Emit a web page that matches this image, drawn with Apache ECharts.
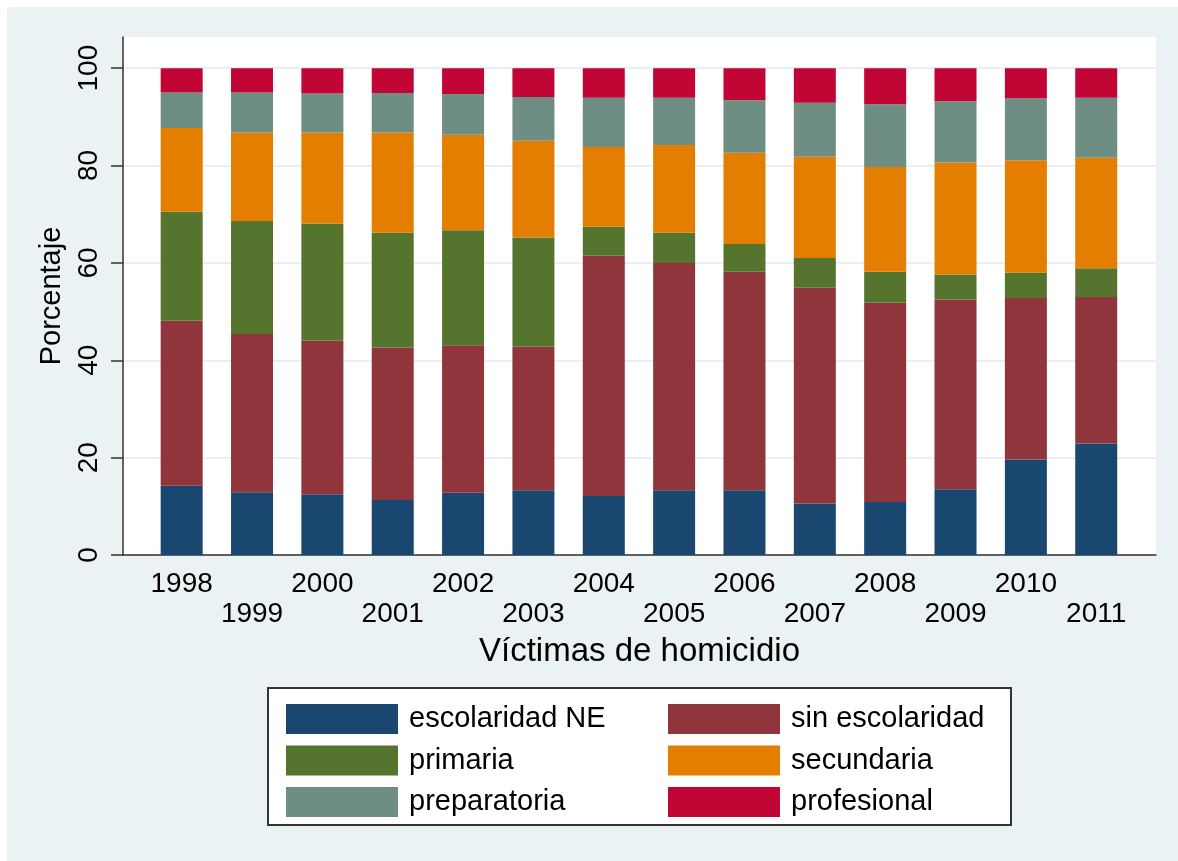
<!DOCTYPE html>
<html>
<head>
<meta charset="utf-8">
<script src="https://cdn.jsdelivr.net/npm/echarts@6/dist/echarts.min.js"></script>
<style>
  html, body { margin: 0; padding: 0; background: #ffffff; width: 1178px; height: 861px; overflow: hidden; }
  #chart { position: absolute; left: 7px; top: 7px; width: 1171px; height: 854px; }
</style>
</head>
<body>
<div id="chart"></div>
<script>
const years = ['1998','1999','2000','2001','2002','2003','2004','2005','2006','2007','2008','2009','2010','2011'];
const escolaridadNE  = [14.2, 12.9, 12.5, 11.3, 12.8, 13.3, 12.1, 13.3, 13.3, 10.6, 10.9, 13.5, 19.6, 22.9];
const sinEscolaridad = [33.9, 32.5, 31.5, 31.3, 30.3, 29.5, 49.4, 46.7, 44.9, 44.3, 40.9, 39.0, 33.2, 30.1];
const primaria       = [22.4, 23.2, 24.1, 23.6, 23.6, 22.4, 5.9, 6.2, 5.7, 6.1, 6.4, 5.1, 5.2, 5.9];
const secundaria     = [17.2, 18.2, 18.7, 20.6, 19.6, 19.9, 16.4, 18.0, 18.7, 20.8, 21.5, 23.0, 23.1, 22.7];
const preparatoria   = [7.3, 8.2, 8.0, 8.1, 8.4, 9.0, 10.1, 9.7, 10.8, 11.1, 12.9, 12.6, 12.7, 12.3];
const profesional    = [5.0, 5.0, 5.2, 5.1, 5.3, 5.9, 6.1, 6.1, 6.6, 7.1, 7.4, 6.8, 6.2, 6.1];
const yTicks = [0, 20, 40, 60, 80, 100];

const seriesDefs = [
  { name: 'escolaridad NE', data: escolaridadNE, color: '#1a476f' },
  { name: 'sin escolaridad', data: sinEscolaridad, color: '#90353b' },
  { name: 'primaria', data: primaria, color: '#55752f' },
  { name: 'secundaria', data: secundaria, color: '#e37e00' },
  { name: 'preparatoria', data: preparatoria, color: '#6e8e84' },
  { name: 'profesional', data: profesional, color: '#c10534' }
];

const FONT = '"Liberation Sans", Arial, sans-serif';
const chart = echarts.init(document.getElementById('chart'), null, { renderer: 'canvas' });

const legendCommon = {
  orient: 'vertical',
  icon: 'rect',
  itemWidth: 112,
  itemHeight: 30,
  itemGap: 11.5,
  selectedMode: false,
  textStyle: { fontFamily: FONT, fontSize: 29, color: '#000', lineHeight: 30, padding: [0, 0, 0, 6] }
};

const option = {
  backgroundColor: '#eaf2f3',
  animation: false,
  grid: [
    { left: 116, top: 30, right: 22, bottom: 306, show: true, backgroundColor: '#ffffff', borderWidth: 0 },
    { left: 139.5, top: 30, right: 46.6, bottom: 306 }
  ],
  graphic: [
    { type: 'rect', left: 260, top: 680, shape: { width: 743, height: 137 },
      style: { fill: '#ffffff', stroke: '#333333', lineWidth: 2 }, z: -1 }
  ],
  legend: [
    Object.assign({ left: 274, top: 692, data: ['escolaridad NE', 'primaria', 'preparatoria'] }, legendCommon),
    Object.assign({ left: 656, top: 692, data: ['sin escolaridad', 'secundaria', 'profesional'] }, legendCommon)
  ],
  xAxis: [
    {
      type: 'value', gridIndex: 0, min: 0, max: 1,
      axisLine: { show: true, lineStyle: { color: '#333', width: 1.5 } },
      axisTick: { show: false }, axisLabel: { show: false }, splitLine: { show: false },
      name: 'Víctimas de homicidio', nameLocation: 'middle', nameGap: 80,
      nameTextStyle: { fontFamily: FONT, fontSize: 33, color: '#000', lineHeight: 34 }
    },
    {
      type: 'category', gridIndex: 1, data: years,
      axisLine: { show: false }, axisTick: { show: false }, splitLine: { show: false },
      axisLabel: {
        interval: 0, margin: 14, fontFamily: FONT, fontSize: 28, color: '#000', lineHeight: 30,
        formatter: function (v, i) { return (i % 2 === 1) ? '\n' + v : v; }
      }
    }
  ],
  yAxis: [
    {
      type: 'value', gridIndex: 0, min: 0, max: 106.4, interval: 20,
      axisLine: { show: true, lineStyle: { color: '#333', width: 1.5 } },
      axisTick: { show: true, length: 12, customValues: yTicks, lineStyle: { color: '#333', width: 1.5 } },
      axisLabel: { customValues: yTicks, rotate: 90, margin: 20, fontFamily: FONT, fontSize: 28, color: '#000', showMaxLabel: true },
      splitLine: { show: true, lineStyle: { color: ['#e3eaec', '#e3eaec', '#e3eaec', '#e3eaec', '#e3eaec', '#e3eaec', 'rgba(0,0,0,0)'], width: 1.5 } },
      name: 'Porcentaje', nameLocation: 'middle', nameGap: 52, nameRotate: 90,
      nameTextStyle: { fontFamily: FONT, fontSize: 29, color: '#000', lineHeight: 30 }
    },
    { type: 'value', gridIndex: 1, min: 0, max: 106.4, show: false }
  ],
  series: seriesDefs.map(function (s) {
    return {
      name: s.name, type: 'bar', stack: 'total', xAxisIndex: 1, yAxisIndex: 1,
      barWidth: 42, data: s.data, itemStyle: { color: s.color }
    };
  })
};
chart.setOption(option);
</script>
</body>
</html>
